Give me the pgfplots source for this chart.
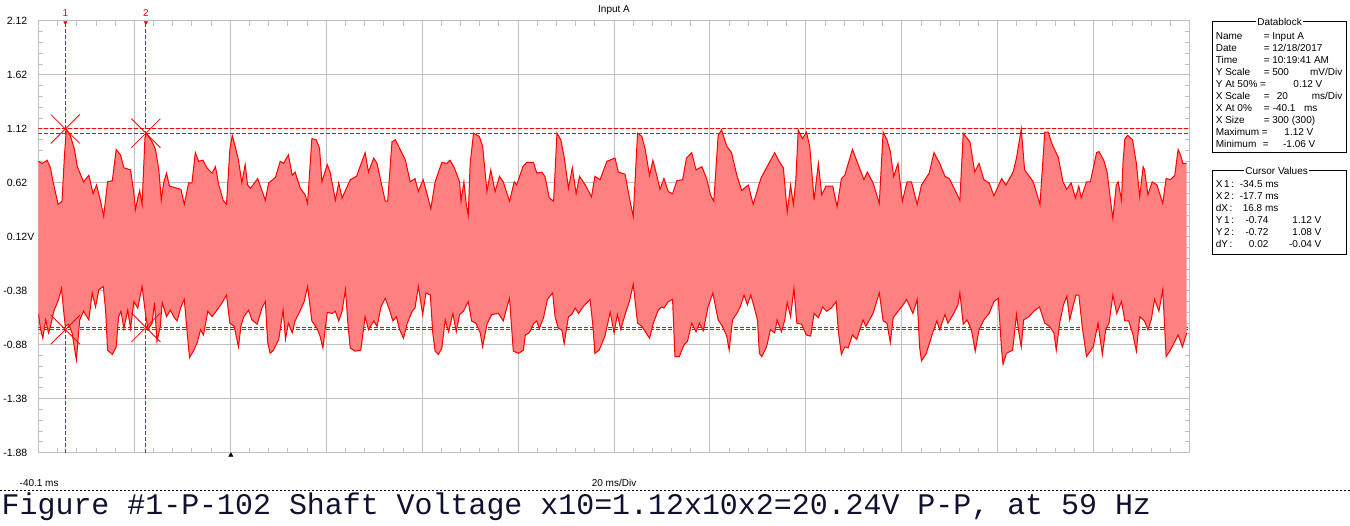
\documentclass[border=0pt]{standalone}
\usepackage{fontspec}
\setmainfont{Liberation Sans}
\newfontfamily\capfont{Liberation Mono}
\usepackage{pgfplots}
\usepackage{pgfplotstable}
\pgfplotsset{compat=1.18}
\usepgfplotslibrary{fillbetween}
\definecolor{wavefill}{RGB}{255,128,128}
\definecolor{gridgray}{RGB}{192,192,192}
\definecolor{capcol}{RGB}{16,16,48}

\pgfplotstableread{
t v
-40.1 0.82
-39.3 0.80
-38.3 0.83
-37.6 0.76
-37.0 0.62
-36.0 0.42
-35.2 0.45
-34.7 0.86
-34.3 1.12
-33.4 1.05
-32.6 0.93
-32.0 0.77
-30.7 0.63
-29.6 0.69
-28.7 0.52
-28.0 0.60
-27.2 0.46
-26.5 0.31
-25.7 0.63
-24.7 0.64
-23.9 0.93
-23.0 0.88
-22.3 0.76
-20.9 0.74
-20.2 0.52
-19.9 0.37
-19.4 0.48
-19.0 0.55
-18.5 0.42
-17.9 1.04
-17.6 1.08
-16.4 1.00
-15.7 0.93
-15.0 0.74
-14.5 0.46
-14.0 0.62
-13.4 0.71
-12.8 0.59
-11.2 0.57
-10.4 0.56
-9.7 0.42
-8.8 0.62
-8.1 0.62
-7.4 0.90
-6.7 0.82
-5.8 0.83
-5.0 0.76
-3.9 0.71
-3.2 0.77
-2.5 0.60
-1.6 0.46
-0.9 0.42
-0.2 0.93
0.3 1.06
0.9 0.96
1.6 0.83
2.3 0.62
3.0 0.79
3.5 0.60
4.1 0.57
5.6 0.66
7.2 0.46
7.9 0.62
9.3 0.67
10.3 0.82
11.0 0.80
12.0 0.88
12.8 0.69
13.4 0.72
14.5 0.57
15.5 0.51
16.0 0.43
16.9 1.03
17.8 1.02
18.5 0.94
19.0 0.63
20.1 0.79
20.7 0.72
21.8 0.46
22.5 0.62
23.2 0.48
24.9 0.65
26.2 0.68
28.0 0.90
28.7 0.72
29.8 0.85
30.5 0.80
31.5 0.59
32.2 0.45
32.7 0.45
33.6 1.00
34.3 1.02
35.3 0.93
36.4 0.83
37.4 0.63
38.4 0.66
39.1 0.54
40.1 0.65
40.9 0.52
41.7 0.38
42.6 0.63
44.0 0.81
45.0 0.80
45.7 0.83
46.6 0.76
47.7 0.63
48.0 0.45
48.6 0.63
49.1 0.42
49.5 0.32
49.9 0.80
50.6 1.08
51.8 1.05
52.5 0.96
53.4 0.54
54.2 0.74
55.1 0.54
56.0 0.68
56.8 0.63
58.1 0.45
59.1 0.63
59.6 0.60
60.9 0.77
61.7 0.81
63.1 0.81
63.8 0.71
64.8 0.72
65.5 0.68
66.4 0.48
67.3 0.45
68.0 1.08
68.8 1.02
69.5 0.86
70.4 0.57
71.2 0.76
72.0 0.52
72.7 0.68
73.9 0.60
75.2 0.49
75.9 0.68
77.0 0.65
78.4 0.82
80.1 0.85
80.8 0.72
82.2 0.70
83.2 0.46
83.9 0.31
84.8 1.08
85.7 1.05
86.4 0.93
87.3 0.69
88.0 0.83
88.8 0.69
89.5 0.56
90.3 0.66
91.2 0.54
92.1 0.52
93.0 0.64
94.2 0.65
95.0 0.85
96.1 0.90
97.0 0.74
98.2 0.77
99.2 0.66
100.0 0.51
100.7 0.45
101.6 1.06
102.3 1.11
103.4 0.96
104.4 0.90
105.5 0.69
106.5 0.55
107.9 0.60
108.9 0.42
110.5 0.66
111.8 0.77
113.4 0.90
114.3 0.82
115.2 0.76
116.0 0.35
116.7 0.60
117.3 0.42
117.8 0.65
118.3 1.11
119.2 1.03
120.0 1.09
120.7 0.96
121.6 0.46
122.5 0.80
123.2 0.51
124.1 0.59
125.5 0.59
126.4 0.40
127.3 0.66
128.0 0.69
129.6 0.93
130.8 0.79
132.0 0.65
132.7 0.72
133.9 0.62
135.2 0.43
136.0 1.09
136.8 1.02
137.5 0.91
138.2 0.68
139.1 0.80
140.0 0.45
141.0 0.63
141.9 0.63
143.1 0.42
144.0 0.60
145.6 0.71
146.6 0.90
147.8 0.80
148.9 0.68
149.8 0.66
152.0 0.46
152.7 1.08
154.1 1.00
155.1 0.72
156.0 0.80
157.0 0.65
158.1 0.62
159.1 0.50
160.7 0.66
161.6 0.60
163.1 0.72
163.8 0.85
164.8 1.12
165.5 0.74
167.3 0.63
168.7 0.42
169.7 1.09
170.4 1.09
171.3 0.97
172.5 0.86
173.5 0.63
174.3 0.56
175.2 0.62
176.1 0.48
176.8 0.59
177.3 0.48
178.4 0.63
179.2 0.63
180.5 0.90
181.0 0.91
182.0 0.83
182.7 0.72
183.4 0.46
183.9 0.29
184.6 0.60
185.0 0.63
185.7 0.46
186.0 0.80
186.4 1.03
187.0 1.06
188.0 1.02
188.8 0.80
189.5 0.49
190.2 0.77
190.5 0.74
191.2 0.51
192.1 0.63
193.1 0.60
194.3 0.43
195.0 0.66
195.9 0.65
196.8 0.69
197.5 0.93
198.0 0.88
198.5 0.80
199.3 0.80
}\upperenv

\pgfplotstableread{
t v
-40.1 -0.59
-39.7 -0.73
-39.2 -0.82
-38.6 -0.65
-38.0 -0.77
-37.5 -0.69
-36.9 -0.57
-35.9 -0.46
-35.3 -0.36
-34.8 -0.59
-34.5 -0.71
-33.8 -0.69
-33.1 -0.77
-32.2 -1.02
-31.5 -0.65
-30.7 -0.57
-29.6 -0.65
-28.9 -0.40
-28.2 -0.53
-27.5 -0.37
-26.6 -0.34
-26.1 -0.56
-25.7 -0.93
-24.7 -0.97
-23.9 -0.90
-23.4 -0.62
-22.9 -0.57
-22.3 -0.73
-21.5 -0.56
-20.9 -0.73
-20.2 -0.48
-19.4 -0.54
-18.5 -0.34
-17.8 -0.59
-17.3 -0.74
-16.4 -0.68
-15.9 -0.49
-15.4 -0.85
-14.7 -0.71
-14.3 -0.49
-13.4 -0.62
-12.6 -0.56
-11.9 -0.62
-11.2 -0.66
-10.4 -0.53
-9.7 -0.46
-9.1 -0.77
-8.6 -1.00
-7.7 -0.93
-7.0 -0.86
-6.3 -0.74
-5.7 -0.79
-4.8 -0.57
-3.9 -0.62
-2.9 -0.56
-1.8 -0.49
-0.9 -0.42
-0.2 -0.68
0.7 -0.71
1.6 -0.90
2.1 -0.71
2.7 -0.62
3.7 -0.56
4.4 -0.65
5.5 -0.69
6.5 -0.54
7.2 -0.48
7.7 -0.86
8.2 -0.96
8.9 -0.93
10.0 -0.83
10.9 -0.56
11.4 -0.83
12.0 -0.68
12.8 -0.77
13.4 -0.66
14.5 -0.56
15.3 -0.48
16.0 -0.34
16.9 -0.66
18.0 -0.73
18.6 -0.80
19.2 -0.91
20.1 -0.58
21.1 -0.59
21.8 -0.57
22.5 -0.66
23.2 -0.57
23.9 -0.37
24.5 -0.73
24.9 -0.91
25.9 -0.94
27.1 -0.93
28.0 -0.62
28.7 -0.74
29.8 -0.66
30.5 -0.71
31.3 -0.53
32.2 -0.45
33.1 -0.56
33.8 -0.66
34.5 -0.62
35.2 -0.74
36.0 -0.82
36.8 -0.68
37.8 -0.57
38.4 -0.54
39.1 -0.34
40.0 -0.60
40.7 -0.40
41.6 -0.42
42.1 -0.77
42.6 -0.94
43.3 -0.97
44.0 -0.91
44.7 -0.65
45.4 -0.76
46.3 -0.59
47.0 -0.76
47.7 -0.60
48.5 -0.57
49.5 -0.48
50.2 -0.66
51.1 -0.68
52.0 -0.77
52.5 -0.90
53.4 -0.69
54.4 -0.60
55.8 -0.59
56.8 -0.66
58.1 -0.45
58.9 -0.94
60.0 -0.96
61.0 -0.93
61.4 -0.79
62.2 -0.77
63.2 -0.68
63.8 -0.66
64.3 -0.73
65.2 -0.63
66.0 -0.46
67.1 -0.40
67.6 -0.62
68.3 -0.73
69.0 -0.74
69.5 -0.87
70.4 -0.62
71.1 -0.60
71.8 -0.54
72.5 -0.59
73.4 -0.53
74.9 -0.46
75.5 -0.71
75.9 -0.96
76.8 -0.93
78.0 -0.80
79.1 -0.58
79.9 -0.77
80.6 -0.60
81.3 -0.74
82.2 -0.60
83.1 -0.48
83.9 -0.32
84.8 -0.68
85.7 -0.71
87.3 -0.82
88.1 -0.68
89.1 -0.56
89.8 -0.53
90.3 -0.54
91.2 -0.48
92.1 -0.46
92.6 -0.99
93.5 -0.99
94.5 -0.88
95.2 -0.85
96.1 -0.68
97.0 -0.76
97.7 -0.68
98.5 -0.75
99.5 -0.53
100.5 -0.40
101.6 -0.65
102.5 -0.71
103.4 -0.80
103.9 -0.93
104.6 -0.65
105.5 -0.59
106.2 -0.53
107.0 -0.42
107.7 -0.51
108.4 -0.42
109.1 -0.53
109.8 -0.65
110.2 -0.96
110.7 -0.99
111.7 -0.90
112.5 -0.74
113.4 -0.77
113.9 -0.65
114.8 -0.76
115.5 -0.65
116.0 -0.49
116.7 -0.62
117.4 -0.36
118.0 -0.68
119.0 -0.69
120.0 -0.79
120.9 -0.80
121.6 -0.59
122.5 -0.63
123.4 -0.53
124.2 -0.57
125.2 -0.54
126.2 -0.48
126.7 -0.77
127.3 -0.97
128.0 -0.90
128.7 -0.91
129.6 -0.79
130.5 -0.83
131.8 -0.65
132.4 -0.71
133.9 -0.59
135.2 -0.40
136.0 -0.66
136.8 -0.68
137.5 -0.86
138.1 -0.63
139.1 -0.57
140.2 -0.51
140.9 -0.46
142.2 -0.59
143.1 -0.46
143.6 -0.90
144.0 -1.03
145.0 -0.96
146.4 -0.76
147.2 -0.66
147.8 -0.74
148.9 -0.60
149.5 -0.68
150.6 -0.60
151.6 -0.51
152.0 -0.40
152.7 -0.69
153.5 -0.65
154.4 -0.74
155.2 -0.94
156.0 -0.74
157.0 -0.65
158.1 -0.59
159.1 -0.48
160.0 -0.45
160.7 -0.93
161.0 -1.06
161.7 -0.96
163.0 -0.93
163.8 -0.60
164.3 -0.77
164.8 -0.90
165.3 -0.65
166.4 -0.62
167.4 -0.57
168.6 -0.53
169.7 -0.68
170.7 -0.71
171.6 -0.77
172.1 -0.93
172.8 -0.68
173.6 -0.51
174.3 -0.43
174.9 -0.65
175.5 -0.54
176.2 -0.42
176.8 -0.42
177.5 -0.71
178.4 -0.99
179.8 -0.90
180.8 -0.68
181.7 -0.97
182.4 -0.74
183.1 -0.68
183.9 -0.42
184.7 -0.59
185.7 -0.48
186.4 -0.66
187.2 -0.66
188.0 -0.77
188.8 -0.94
189.5 -0.62
190.5 -0.66
191.2 -0.74
191.9 -0.65
192.6 -0.46
193.5 -0.57
194.3 -0.37
195.0 -0.99
195.9 -0.93
197.5 -0.79
198.4 -0.90
199.3 -0.77
}\lowerenv

\newcommand{\dbfont}{\fontsize{10}{12}\selectfont}

\begin{document}
\begin{tikzpicture}[x=1pt,y=1pt]
\path (0,0) rectangle (1350,526);
\begin{axis}[
  at={(38pt,73pt)}, anchor=south west,
  scale only axis, width=1152pt, height=432pt,
  xmin=-40.1, xmax=199.9, ymin=-1.88, ymax=2.12,
  set layers,
  clip mode=individual,
  xtick={-40.1,-20.1,-0.1,19.9,39.9,59.9,79.9,99.9,119.9,139.9,159.9,179.9,199.9},
  xticklabels={},
  extra x ticks={79.9}, extra x tick labels={},
  extra x tick style={major tick length=9pt},
  ytick={-1.88,-1.38,-0.88,-0.38,0.12,0.62,1.12,1.62,2.12},
  yticklabels={-1.88,-1.38,-0.88,-0.38,0.12\rlap{V},0.62,1.12,1.62,2.12},
  minor x tick num=4, minor y tick num=4,
  grid=major,
  major grid style={gridgray, line width=1pt},
  axis line style={gridgray, line width=1pt},
  tick style={gridgray, line width=1pt},
  major tick length=5pt, minor tick length=5pt,
  tick align=inside,
  yticklabel style={font=\fontsize{10.5}{12}\selectfont, inner sep=0pt, anchor=east, xshift=-11pt},
]
% cursor lines (behind the waveform)
\addplot[on layer=pre main, red, line width=1pt, dash pattern=on 4pt off 2pt] coordinates {(-40.1,1.12) (199.9,1.12)};
\addplot[on layer=pre main, red, line width=1pt, dash pattern=on 4pt off 2pt] coordinates {(-40.1,1.08) (199.9,1.08)};
\addplot[on layer=pre main, red, line width=1pt, dash pattern=on 4pt off 2pt] coordinates {(-40.1,-0.72) (199.9,-0.72)};
\addplot[on layer=pre main, red, line width=1pt, dash pattern=on 4pt off 2pt] coordinates {(-40.1,-0.74) (199.9,-0.74)};
\addplot[on layer=pre main, red, line width=1pt, dash pattern=on 4pt off 2pt] coordinates {(-34.5,-1.88) (-34.5,2.12)};
\addplot[on layer=pre main, red, line width=1pt, dash pattern=on 4pt off 2pt] coordinates {(-17.7,-1.88) (-17.7,2.12)};
% waveform envelope
\addplot[name path=U, red, line width=1pt] table {\upperenv};
\addplot[name path=L, red, line width=1pt] table {\lowerenv};
\addplot[fill=wavefill, draw=none] fill between[of=U and L];
% cursor crosses
\addplot[only marks, red, mark=x, mark size=20.5pt, mark options={line width=0.8pt}] coordinates {(-34.5,1.12) (-17.7,1.08) (-34.5,-0.74) (-17.7,-0.72)};
% cursor heads
\addplot[only marks, red, mark=triangle*, mark size=2pt, mark options={rotate=180, yshift=1.5pt}] coordinates {(-34.5,2.12) (-17.7,2.12)};
% trigger marker
\addplot[only marks, black, mark=triangle*, mark size=2.5pt, mark options={yshift=-2.5pt}] coordinates {(0,-1.88)};
\end{axis}

% cursor numbers
\node[red, anchor=base, inner sep=0pt, font=\dbfont] at (64.9,509) {1};
\node[red, anchor=base, inner sep=0pt, font=\dbfont] at (145.5,509) {2};

% titles and labels
\node[anchor=base, inner sep=0pt, font=\dbfont] at (614,513) {Input A};
\node[anchor=base west, inner sep=0pt, font=\dbfont] at (19,39) {-40.1 ms};
\node[anchor=base, inner sep=0pt, font=\dbfont] at (614,39) {20 ms/Div};

% caption
\draw[black, line width=1pt, dash pattern=on 2pt off 2pt] (0,35.3) -- (1350,35.3);
\node[anchor=base west, inner sep=0pt, text=capcol, font=\capfont\fontsize{29.95}{32}\selectfont] at (1,11) {Figure \#1-P-102 Shaft Voltage x10=1.12x10x2=20.24V P-P, at 59 Hz};

% Datablock
\draw[black, line width=1pt] (1212.7,504.3) rectangle (1346.7,373.7);
\node[fill=white, inner sep=1.5pt, font=\dbfont] at (1280,504.3) {Datablock};
\begin{scope}[every node/.style={inner sep=0pt, font=\dbfont}]
\node[anchor=base west] at (1216,486.7) {Name};
\node[anchor=base west] at (1264,486.7) {= Input A};
\node[anchor=base west] at (1216,474.7) {Date};
\node[anchor=base west] at (1264,474.7) {= 12/18/2017};
\node[anchor=base west] at (1216,462.6) {Time};
\node[anchor=base west] at (1264,462.6) {= 10:19:41 AM};
\node[anchor=base west] at (1216,450.6) {Y Scale};
\node[anchor=base west] at (1264,450.6) {= 500};
\node[anchor=base east] at (1343,450.6) {mV/Div};
\node[anchor=base west] at (1216,438.6) {Y At 50\% =};
\node[anchor=base east] at (1323,438.6) {0.12 V};
\node[anchor=base west] at (1216,426.5) {X Scale};
\node[anchor=base west] at (1264,426.5) {=};
\node[anchor=base west] at (1277,426.5) {20};
\node[anchor=base east] at (1343,426.5) {ms/Div};
\node[anchor=base west] at (1216,414.5) {X At 0\%};
\node[anchor=base west] at (1264,414.5) {=};
\node[anchor=base west] at (1273,414.5) {-40.1};
\node[anchor=base east] at (1318,414.5) {ms};
\node[anchor=base west] at (1216,402.5) {X Size};
\node[anchor=base west] at (1264,402.5) {= 300 (300)};
\node[anchor=base west] at (1216,390.5) {Maximum};
\node[anchor=base west] at (1262,390.5) {=};
\node[anchor=base east] at (1314,390.5) {1.12 V};
\node[anchor=base west] at (1216,378.4) {Minimum};
\node[anchor=base west] at (1263,378.4) {=};
\node[anchor=base east] at (1316,378.4) {-1.06 V};
\end{scope}

% Cursor values
\draw[black, line width=1pt] (1212.7,355.3) rectangle (1346.7,271.7);
\node[fill=white, inner sep=1.5pt, font=\dbfont] at (1277,355.3) {Cursor Values};
\begin{scope}[every node/.style={inner sep=0pt, font=\dbfont}]
\node[anchor=base west] at (1216,338.1) {X\,1\,:};
\node[anchor=base west] at (1240,338.1) {-34.5 ms};
\node[anchor=base west] at (1216,326.1) {X\,2\,:};
\node[anchor=base west] at (1240,326.1) {-17.7 ms};
\node[anchor=base west] at (1216,314.1) {dX\,:};
\node[anchor=base west] at (1243,314.1) {16.8 ms};
\node[anchor=base west] at (1216,302.1) {Y\,1\,:};
\node[anchor=base east] at (1269,302.1) {-0.74};
\node[anchor=base east] at (1322,302.1) {1.12 V};
\node[anchor=base west] at (1216,290.1) {Y\,2\,:};
\node[anchor=base east] at (1269,290.1) {-0.72};
\node[anchor=base east] at (1322,290.1) {1.08 V};
\node[anchor=base west] at (1216,278.1) {dY\,:};
\node[anchor=base east] at (1269,278.1) {0.02};
\node[anchor=base east] at (1322,278.1) {-0.04 V};
\end{scope}
\end{tikzpicture}
\end{document}
